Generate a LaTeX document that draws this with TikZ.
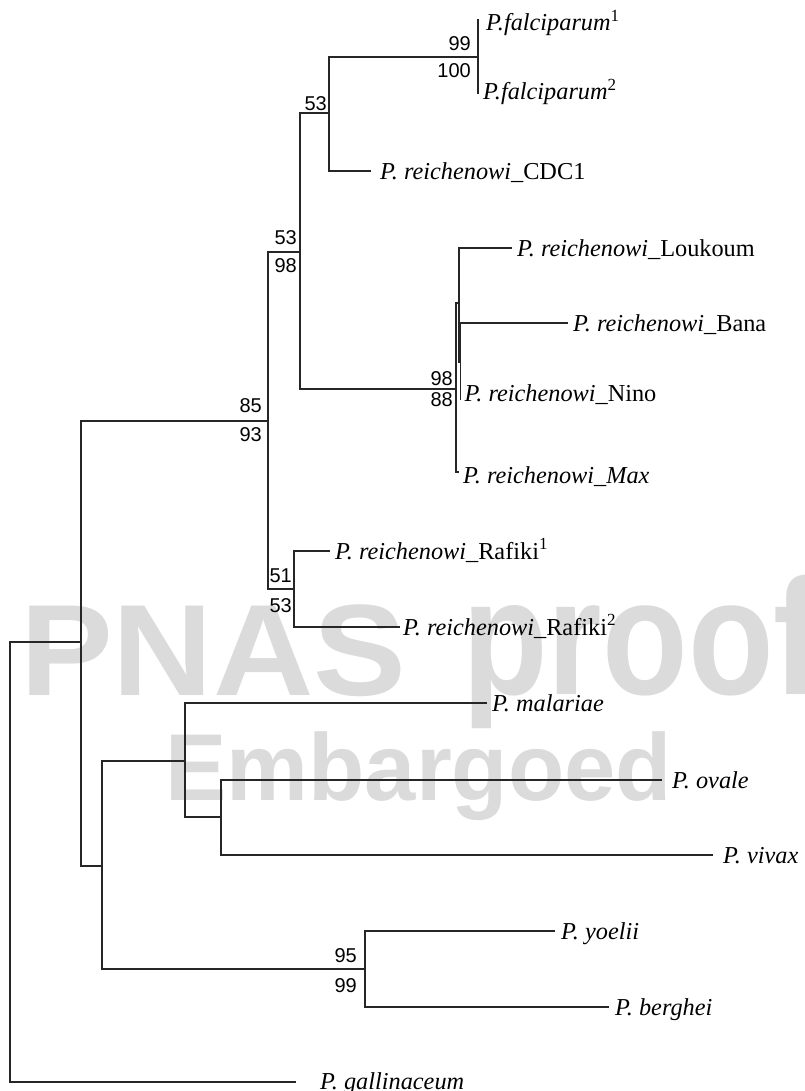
\documentclass[tikz,border=0pt]{standalone}
\usepackage{fontspec}
\setmainfont{Liberation Serif}
\newfontfamily\numfont{Liberation Sans}
\newfontfamily\wmfont{Liberation Sans}
\begin{document}
\begin{tikzpicture}[x=1pt,y=-1pt,
  branch/.style={line width=1.1pt, draw=black!85},
  taxon/.style={anchor=base west, inner sep=0pt, font=\fontsize{24.3}{28}\selectfont},
  supp/.style={inner sep=0pt, font=\numfont\fontsize{20}{24}\selectfont},
  wm/.style={inner sep=0pt, anchor=base west, text=black!14}]
\useasboundingbox (0,0) rectangle (804,1091);
\clip (0,0) rectangle (804,1091);
% watermark
\node[wm, font=\wmfont\bfseries\fontsize{130}{130}\selectfont, xscale=1.07] (wm1) at (20,695) {PNAS};
\node[wm, font=\wmfont\bfseries\fontsize{165}{165}\selectfont, xscale=0.85] (wm2) at (462,694) {proof};
\node[wm, font=\wmfont\bfseries\fontsize{95}{95}\selectfont, xscale=0.97] (wm3) at (165,800) {Embargoed};
% internal nodes
\coordinate (R) at (10,862);
\coordinate (A) at (81,642);
\coordinate (B) at (102,866);
\coordinate (C) at (185,761);
\coordinate (D) at (221,817);
\coordinate (E) at (365,969);
\coordinate (N85) at (268,421);
\coordinate (N5398) at (300,252);
\coordinate (N53) at (329,113);
\coordinate (NF) at (478,57);
\coordinate (N98) at (456,389);
\coordinate (NY) at (459,303);
\coordinate (NZ) at (460.5,362);
\coordinate (NR) at (294,589);
% tips
\coordinate (tF1) at (478,19);
\coordinate (tF2) at (478,94);
\coordinate (tCDC) at (371,171);
\coordinate (tLou) at (512,248);
\coordinate (tBan) at (568,323);
\coordinate (tNin) at (460.5,400);
\coordinate (tMax) at (459,472);
\coordinate (tRa1) at (330,551);
\coordinate (tRa2) at (400,627);
\coordinate (tMal) at (487,703);
\coordinate (tOva) at (662,780);
\coordinate (tViv) at (713,855);
\coordinate (tYoe) at (555,931);
\coordinate (tBer) at (609,1007);
\coordinate (tGal) at (296,1082);
% branches
\draw[branch] (R) |- (A);
\draw[branch] (R) |- (tGal);
\draw[branch] (A) |- (N85);
\draw[branch] (A) |- (B);
\draw[branch] (N85) |- (N5398);
\draw[branch] (N85) |- (NR);
\draw[branch] (N5398) |- (N53);
\draw[branch] (N5398) |- (N98);
\draw[branch] (N53) |- (NF);
\draw[branch] (N53) |- (tCDC);
\draw[branch] (NF) -- (tF1);
\draw[branch] (NF) -- (tF2);
\draw[branch] (N98) |- (NY);
\draw[branch] (N98) |- (tMax);
\draw[branch] (NY) |- (tLou);
\draw[branch] (NY) |- (NZ);
\draw[branch] (NZ) |- (tBan);
\draw[branch] (NZ) -- (tNin);
\draw[branch] (NR) |- (tRa1);
\draw[branch] (NR) |- (tRa2);
\draw[branch] (B) |- (C);
\draw[branch] (B) |- (E);
\draw[branch] (C) |- (tMal);
\draw[branch] (C) |- (D);
\draw[branch] (D) |- (tOva);
\draw[branch] (D) |- (tViv);
\draw[branch] (E) |- (tYoe);
\draw[branch] (E) |- (tBer);
% taxon labels
\node[taxon] (lF1) at ([xshift=8pt,yshift=-12pt]tF1) {\itshape P.falciparum\textsuperscript{\upshape 1}};
\node[taxon] (lF2) at ([xshift=5pt,yshift=-6pt]tF2) {\itshape P.falciparum\textsuperscript{\upshape 2}};
\node[taxon] (lCDC) at ([xshift=9pt,yshift=-9pt]tCDC) {{\itshape P. reichenowi}\_CDC1};
\node[taxon] (lLou) at ([xshift=5pt,yshift=-8pt]tLou) {{\itshape P. reichenowi}\_Loukoum};
\node[taxon] (lBan) at ([xshift=5pt,yshift=-8pt]tBan) {{\itshape P. reichenowi}\_Bana};
\node[taxon] (lNin) at ([xshift=4pt,yshift=-1pt]tNin) {{\itshape P. reichenowi}\_Nino};
\node[taxon] (lMax) at ([xshift=4pt,yshift=-11pt]tMax) {\itshape P. reichenowi\_Max};
\node[taxon] (lRa1) at ([xshift=5pt,yshift=-8pt]tRa1) {{\itshape P. reichenowi}\_Rafiki\textsuperscript{1}};
\node[taxon] (lRa2) at ([xshift=3pt,yshift=-8pt]tRa2) {{\itshape P. reichenowi}\_Rafiki\textsuperscript{2}};
\node[taxon] (lMal) at ([xshift=5pt,yshift=-8pt]tMal) {\itshape P. malariae};
\node[taxon] (lOva) at ([xshift=10pt,yshift=-8pt]tOva) {\itshape P. ovale};
\node[taxon] (lViv) at ([xshift=10pt,yshift=-8pt]tViv) {\itshape P. vivax};
\node[taxon] (lYoe) at ([xshift=6pt,yshift=-8pt]tYoe) {\itshape P. yoelii};
\node[taxon] (lBer) at ([xshift=6pt,yshift=-8pt]tBer) {\itshape P. berghei};
\node[taxon] (lGal) at ([xshift=24pt,yshift=-7pt]tGal) {\itshape P. gallinaceum};
% support values
\node[supp, anchor=south east] (sF1) at ([xshift=-7pt,yshift=6pt]NF) {99};
\node[supp, anchor=north east] (sF2) at ([xshift=-7pt,yshift=-6pt]NF) {100};
\node[supp, anchor=south east] (s53a) at ([xshift=-2pt,yshift=2pt]N53) {53};
\node[supp, anchor=south east] (s53b) at ([xshift=-3pt,yshift=7pt]N5398) {53};
\node[supp, anchor=north east] (s98b) at ([xshift=-3pt,yshift=-6pt]N5398) {98};
\node[supp, anchor=south east] (s98c) at ([xshift=-3pt,yshift=3pt]N98) {98};
\node[supp, anchor=north east] (s88c) at ([xshift=-3pt,yshift=-3pt]N98) {88};
\node[supp, anchor=south east] (s85) at ([xshift=-6pt,yshift=8pt]N85) {85};
\node[supp, anchor=north east] (s93) at ([xshift=-6pt,yshift=-6pt]N85) {93};
\node[supp, anchor=south east] (s51) at ([xshift=-2pt,yshift=6pt]NR) {51};
\node[supp, anchor=north east] (s53r) at ([xshift=-2pt,yshift=-9pt]NR) {53};
\node[supp, anchor=south east] (s95) at ([xshift=-8pt,yshift=6pt]E) {95};
\node[supp, anchor=north east] (s99e) at ([xshift=-8pt,yshift=-9pt]E) {99};
\end{tikzpicture}
\end{document}
